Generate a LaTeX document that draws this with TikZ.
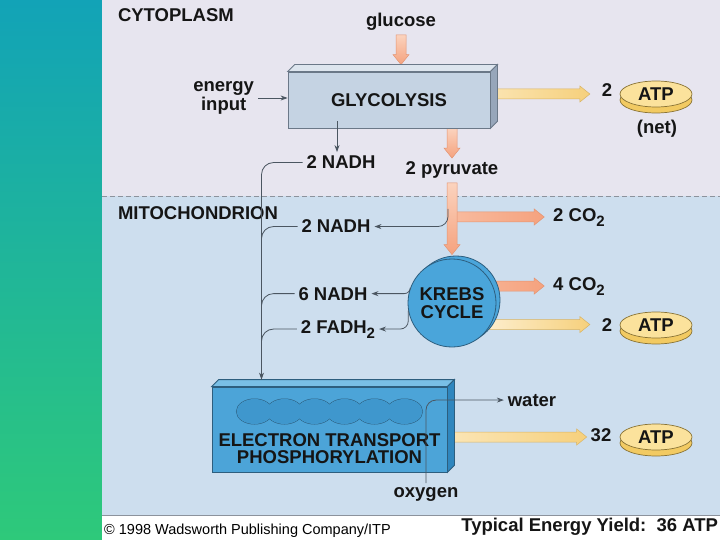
\documentclass[tikz,border=0pt]{standalone}
\usepackage{fontspec}
\setmainfont{Liberation Sans}
\usepackage{tikz}
\usetikzlibrary{positioning, shapes.geometric, arrows.meta, calc, shadows}
\definecolor{barTop}{HTML}{12A3B7}
\definecolor{barBot}{HTML}{2EC97A}
\definecolor{cytocol}{HTML}{E7E5EF}
\definecolor{mitocol}{HTML}{CDDEEE}
\definecolor{sepcol}{HTML}{8C929C}
\definecolor{glyfront}{HTML}{C5D3E3}
\definecolor{glytop}{HTML}{DDE5EE}
\definecolor{glyside}{HTML}{97A6BA}
\definecolor{glyline}{HTML}{6B7888}
\definecolor{etpfront}{HTML}{4CA4D8}
\definecolor{etptop}{HTML}{79BFE6}
\definecolor{etpside}{HTML}{2F86BE}
\definecolor{etpline}{HTML}{2D5E7E}
\definecolor{bumpcol}{HTML}{3F97CD}
\definecolor{krebscol}{HTML}{4AA5DA}
\definecolor{atptop}{HTML}{FBE29C}
\definecolor{atpside}{HTML}{F2CA62}
\definecolor{atpline}{HTML}{8A7436}
\definecolor{orgA}{HTML}{FBD3BE}
\definecolor{orgB}{HTML}{F5A27E}
\definecolor{orgline}{HTML}{E39472}
\definecolor{yelA}{HTML}{FFF8E8}
\definecolor{yelB}{HTML}{F6D07C}
\definecolor{yelline}{HTML}{D8B465}
\definecolor{connline}{HTML}{4B5661}
\definecolor{txtcol}{HTML}{151515}

\pgfdeclarelayer{bg}
\pgfdeclarelayer{mid}
\pgfsetlayers{bg,mid,main}

\newcommand{\subtwo}{\raisebox{-5pt}{\fontsize{15}{15}\selectfont 2}}
\newcommand{\fatright}[3]{%
  \path[#1] let \p1=(#2), \p2=(#3) in
    (\x1,\y1+5pt) -- (\x2-10pt,\y1+5pt) -- (\x2-10pt,\y1+8pt) -- (\x2,\y1)
    -- (\x2-10pt,\y1-8pt) -- (\x2-10pt,\y1-5pt) -- (\x1,\y1-5pt) -- cycle;}
\newcommand{\fatdown}[3]{%
  \path[#1] let \p1=(#2), \p2=(#3) in
    (\x1-5pt,\y1) -- (\x1-5pt,\y2+10pt) -- (\x1-8pt,\y2+10pt) -- (\x1,\y2)
    -- (\x1+8pt,\y2+10pt) -- (\x1+5pt,\y2+10pt) -- (\x1+5pt,\y1) -- cycle;}

\tikzset{
  lbl/.style={font=\bfseries\fontsize{18.5}{18.5}\selectfont, text=txtcol, inner sep=1pt, outer sep=3pt},
  conn/.style={draw=connline, line width=0.8pt},
  arrowed/.style={-{Stealth[length=7pt,width=5pt]}},
  sepline/.style={draw=sepcol, line width=0.6pt},
  glybox/.style={draw=glyline, fill=glyfront, line width=0.8pt, minimum width=202pt, minimum height=56pt,
    font=\bfseries\fontsize{18.5}{18.5}\selectfont, text=txtcol},
  etpbox/.style={draw=etpline, fill=etpfront, line width=0.8pt, minimum width=235pt, minimum height=85pt},
  krebsdisc/.style={circle, draw=etpline, fill=krebscol, line width=0.8pt, minimum size=88pt, inner sep=0pt,
    align=center, font=\bfseries\fontsize{18.5}{18}\selectfont, text=txtcol,
    copy shadow={shadow xshift=4pt, shadow yshift=3pt, fill=krebscol, draw=etpline}},
  atp/.style={ellipse, draw=atpline, fill=atptop, line width=0.7pt, minimum width=72pt, minimum height=26pt,
    inner sep=0pt, font=\bfseries\fontsize{18.5}{18.5}\selectfont, text=txtcol,
    copy shadow={shadow xshift=0pt, shadow yshift=-6pt, fill=atpside, draw=atpline}},
  orangev/.style={top color=orgA, bottom color=orgB, draw=orgline, line width=0.5pt},
  orangeh/.style={left color=orgA!50!orgB, right color=orgB, draw=orgline, line width=0.5pt},
  yellowh/.style={left color=yelA, right color=yelB, draw=yelline, line width=0.5pt}
}

\begin{document}
\begin{tikzpicture}[x=1pt, y=-1pt]
  \useasboundingbox (0,0) rectangle (720,540);

  \begin{pgfonlayer}{bg}
    \shade[top color=barTop, bottom color=barBot] (0,0) rectangle (102,540);
    \fill[cytocol] (102,0) rectangle (720,196);
    \fill[mitocol] (102,196) rectangle (720,515);
    \fill[white] (102,515) rectangle (720,540);
    \draw[sepline, dash pattern=on 5pt off 3pt] (102,196) -- (720,196);
    \draw[sepline] (102,515) -- (720,515);
  \end{pgfonlayer}

  % cytoplasm
  \node[lbl, anchor=base west] (cyto) at (114,22) {CYTOPLASM};
  \node[lbl, anchor=base] (glucose) at (401,27) {glucose};
  \node[glybox] (glyco) at (389,100) {GLYCOLYSIS};
  \node[lbl, align=center, anchor=east, font=\bfseries\fontsize{18.5}{14}\selectfont] (energy) at (258,98) {energy\\input};
  \node[lbl, anchor=base] (two1) at (607,97) {2};
  \node[atp] (atp1) at (656,94) {ATP};
  \node[lbl, anchor=base] (net) at (657,134) {(net)};
  \node[lbl, anchor=base] (nadh1) at (341,169) {2 NADH};
  \node[lbl, anchor=base] (pyr) at (452,175) {2 pyruvate};

  % mitochondrion
  \node[lbl, anchor=base west] (mito) at (114,220) {MITOCHONDRION};
  \node[lbl, anchor=base] (nadh2) at (336,233) {2 NADH};
  \node[lbl, anchor=base] (co2a) at (579,222) {2 CO\subtwo};
  \node[krebsdisc] (krebs) at (452,303) {KREBS\\CYCLE};
  \node[lbl, anchor=base] (co2b) at (579,290) {4 CO\subtwo};
  \node[lbl, anchor=base] (nadh6) at (333,300) {6 NADH};
  \node[lbl, anchor=base] (fadh) at (338,333) {2 FADH\subtwo};
  \node[lbl, anchor=base] (two2) at (607,331) {2};
  \node[atp] (atp2) at (656,325) {ATP};

  \node[etpbox, label={[lbl, align=center, font=\bfseries\fontsize{18.5}{17}\selectfont, yshift=-19.5pt]center:ELECTRON TRANSPORT\\PHOSPHORYLATION}] (etp) at (329.5,429.5) {};
  \node[lbl, anchor=base] (water) at (532,406) {water};
  \node[lbl, anchor=base] (n32) at (601,441) {32};
  \node[atp] (atp3) at (656,437) {ATP};
  \node[lbl, anchor=base] (oxygen) at (426,497) {oxygen};

  \node[anchor=base west, inner sep=0pt, font=\fontsize{14.5}{14.5}\selectfont] (credit) at (104,534) {\textcopyright\ 1998 Wadsworth Publishing Company/ITP};
  \node[lbl, anchor=base east, inner sep=0pt, outer sep=0pt] (yield) at (718,531) {Typical Energy Yield:\ \ 36 ATP};

  % box faces
  \draw[draw=glyline, line width=0.8pt, fill=glytop] (glyco.north west) -- ++(7pt,7pt) -- ([shift={(7pt,7pt)}]glyco.north east) -- (glyco.north east) -- cycle;
  \draw[draw=glyline, line width=0.8pt, fill=glyside] (glyco.north east) -- ++(7pt,7pt) -- ([shift={(7pt,7pt)}]glyco.south east) -- (glyco.south east) -- cycle;
  \draw[draw=etpline, line width=0.8pt, fill=etptop] (etp.north west) -- ++(7pt,7pt) -- ([shift={(7pt,7pt)}]etp.north east) -- (etp.north east) -- cycle;
  \draw[draw=etpline, line width=0.8pt, fill=etpside] (etp.north east) -- ++(7pt,7pt) -- ([shift={(7pt,7pt)}]etp.south east) -- (etp.south east) -- cycle;
  \foreach \i in {0,...,5}
    \draw[draw=etpline, fill=bumpcol, line width=1pt] ([shift={(\i*30pt-75pt,18pt)}]etp.center) ellipse [x radius=18pt, y radius=12.5pt];
  \foreach \i in {0,...,5}
    \fill[bumpcol] ([shift={(\i*30pt-75pt,18pt)}]etp.center) ellipse [x radius=18pt, y radius=12.5pt];

  % thin connectors
  \coordinate (nadhin) at ([xshift=-4pt]nadh1.north);
  \coordinate (etpin) at ([xshift=-68pt,yshift=7pt]etp.north);
  \coordinate (fork) at (453,217);
  \draw[conn, arrowed] (energy.east) -- (energy.east -| glyco.west);
  \draw[conn, arrowed] ([yshift=7pt]nadhin |- glyco.south) -- (nadhin);
  \draw[conn, arrowed, rounded corners=12pt] (nadh1.west) -| (etpin);
  \draw[conn, rounded corners=12pt] (nadh2.west) -| (etpin);
  \draw[conn, rounded corners=12pt] (nadh6.west) -| (etpin);
  \draw[conn, rounded corners=12pt] (fadh.west) -| (etpin);
  \draw[conn, arrowed, rounded corners=10pt] ([shift={(-5pt,8pt)}]fork) |- (nadh2.east);
  \draw[conn, arrowed, rounded corners=6pt] (krebs.160) |- (nadh6.east);
  \draw[conn, arrowed, rounded corners=8pt] (krebs.190) |- (fadh.east);
  \draw[conn, arrowed, rounded corners=10pt] (oxygen.north) |- (water.west);

  % wide arrows
  \begin{pgfonlayer}{mid}
    \fatdown{orangev}{glucose.south}{[yshift=7pt]glyco.north}
    \fatdown{orangev}{pyr.north |- glyco.south}{pyr.north}
    \fatright{orangeh}{fork}{[xshift=-5pt]co2a.west}
    \fatdown{orangev}{pyr.south}{[yshift=4pt]krebs.north}
    \fatright{orangeh}{krebs.center |- co2b.west}{[xshift=-5pt]co2b.west}
    \fatright{yellowh}{glyco.center |- atp1}{[xshift=-8pt]two1.west}
    \fatright{yellowh}{krebs.center |- two2.west}{[xshift=-8pt]two2.west}
    \fatright{yellowh}{etp.center |- atp3}{n32.west}
  \end{pgfonlayer}
\end{tikzpicture}
\end{document}
